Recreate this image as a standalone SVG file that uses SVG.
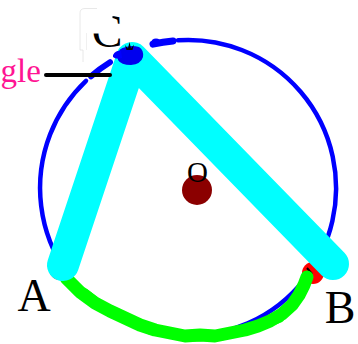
<svg xmlns="http://www.w3.org/2000/svg" width="358" height="344" viewBox="0 0 358 344">
<style>
.lbl{font-family:"Liberation Serif","Times New Roman",serif;fill:#000}
.blue{fill:none;stroke:#0000ff;stroke-linecap:round}
.green{fill:none;stroke:#00ff00;stroke-linecap:round;stroke-linejoin:round}
.dot{stroke:none}
</style>
<rect width="358" height="344" fill="#fff"/>
<g id="connectors">
<path class="blue" stroke-width="4.5" d="M178 40.3 A148 148 0 1 1 86 80.8"/>
<path class="blue" stroke-width="6" d="M91 76.2 A148 148 0 0 1 110 62.2"/>
<path class="blue" stroke-width="7" d="M153 44.2 A148 148 0 0 1 173 40.9"/>
<ellipse cx="156" cy="42" rx="4.5" ry="3.5" fill="#0000ff"/>
</g>
<g id="node-A">
<circle class="dot" cx="60" cy="269" r="11" fill="#ff0000"/>
<text class="lbl" x="34" y="311" font-size="46" text-anchor="middle">A</text>
</g>
<g id="node-B">
<circle class="dot" cx="313" cy="273" r="11" fill="#ff0000"/>
<path d="M307 268 L312 274" stroke="#000" stroke-width="2"/>
<text class="lbl" x="340" y="323" font-size="46" text-anchor="middle">B</text>
</g>
<g id="arc-AB">
<path class="green" stroke-width="13" d="M66 278 L80 292 L95 303 L110 311 L125 318 L140 325 L155 330 L170 333 L185 336 L200 335 L215 336 L230 333 L245 330 L258 326 L270 321 L282 314 L292 305 L299 295 L304 285 L307 277"/>
<path class="green" stroke-width="9" d="M85 293 L100 305 L118 313 M150 330 L175 334 M195 337 L222 336 M262 325 L280 318 M293 302 L300 292"/>
</g>
<g id="node-O">
<circle class="dot" cx="197" cy="190" r="15" fill="#8b0000"/>
<text class="lbl" x="197.5" y="182" font-size="29" text-anchor="middle">O</text>
</g>
<g id="triangle">
<path d="M63 265 L132 58 L333 264" fill="none" stroke="#00ffff" stroke-width="32" stroke-linecap="round" stroke-linejoin="round"/>
</g>
<g id="node-angle">
<text x="0.5" y="82" font-size="33" font-family="Liberation Serif, Times New Roman, serif" fill="#ff1493">gle</text>
<path d="M46 75 L110 75" stroke="#000" stroke-width="4" stroke-linecap="round"/>
</g>
<g id="node-C">
<path d="M118 55 Q118 48 126 47 Q132 45 139 47 Q144 50 143 57 Q141 64 131 65 Q121 65 118 60 Z" fill="#0000ee"/>
<path d="M113 55 Q116 50 121 51 L122 58 Q116 60 113 57 Z" fill="#0000ff"/>
<path d="M125 45 L128 48.5 L129.5 42 L131 48.5 L134 44.5 L132.5 50 L126.5 50 Z" fill="#000"/>
<text class="lbl" x="107" y="47" font-size="46" text-anchor="middle">C</text>
<rect x="86" y="8" width="26.5" height="25.5" fill="#fff"/>
<rect x="80" y="10" width="19" height="23" fill="#fff"/>
<path d="M83 62 L83 50 L80 50 L80 13 Q80 8.5 85 8.5 L97 8.5" fill="none" stroke="#e2e2e2" stroke-width="0.8"/>
<path d="M86.5 50 L86.5 33" fill="none" stroke="#ececec" stroke-width="0.8"/>
</g>
</svg>
